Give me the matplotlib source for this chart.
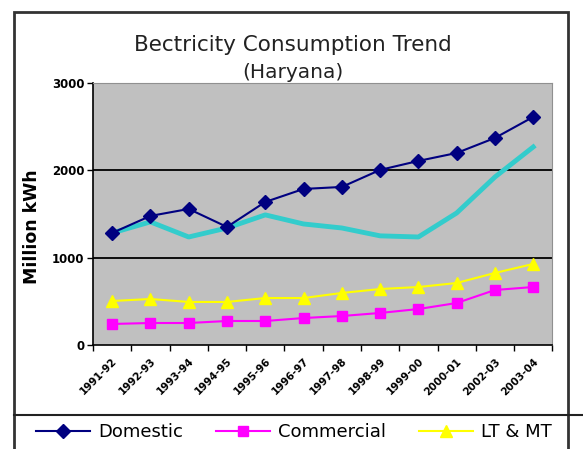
import matplotlib.pyplot as plt
from matplotlib.patches import Rectangle
from matplotlib.lines import Line2D
import numpy as np

# Electricity consumption in Haryana (million kWh)
years = ['1991-92', '1992-93', '1993-94', '1994-95', '1995-96', '1996-97',
         '1997-98', '1998-99', '1999-00', '2000-01', '2002-03', '2003-04']
domestic = [1283, 1478, 1558, 1352, 1638, 1787, 1810, 2005, 2108, 2199, 2371, 2612]
commercial = [241, 252, 252, 275, 275, 309, 332, 367, 412, 481, 630, 664]
lt_mt = [504, 527, 493, 493, 538, 538, 596, 641, 664, 710, 825, 928]
industrial = [1283, 1410, 1237, 1340, 1490, 1386, 1340, 1250, 1237, 1512, 1924, 2268]

fig = plt.figure(figsize=(5.83, 4.49), dpi=100)
ax = fig.add_axes([0.1595, 0.2316, 0.788, 0.5835])
ax.set_facecolor('#C0C0C0')

x = np.arange(len(years))
ax.plot(x, industrial, color='#33CCCC', lw=3.5, zorder=2)
ax.plot(x, lt_mt, color='#FFFF00', lw=1.5, marker='^', ms=9, zorder=3)
ax.plot(x, commercial, color='#FF00FF', lw=1.5, marker='s', ms=7, zorder=3)
ax.plot(x, domestic, color='#000080', lw=1.5, marker='D', ms=7, zorder=4)

ax.set_xlim(-0.5, len(years) - 0.5)
ax.set_ylim(0, 3000)
ax.set_yticks([0, 1000, 2000, 3000])
ax.set_yticklabels(['0', '1000', '2000', '3000'], fontsize=8.5, fontweight='bold')
ax.tick_params(axis='y', length=4, width=1, pad=2)
for v in [1000, 2000]:
    ax.axhline(v, color='black', lw=1.3, zorder=1)

ax.set_xticks(x)
ax.set_xticklabels(years, rotation=45, ha='right', rotation_mode='anchor',
                   fontsize=7.5, fontweight='bold')
ax.set_xticks(np.arange(-0.5, len(years)), minor=True)
ax.tick_params(axis='x', which='major', length=0, pad=8)
ax.tick_params(axis='x', which='minor', length=4, width=1)

ax.spines['left'].set_linewidth(1.2)
ax.spines['bottom'].set_linewidth(1.2)
ax.spines['top'].set_color('#909090')
ax.spines['right'].set_color('#909090')

ax.set_ylabel('Million kWh', fontsize=12.5, fontweight='bold')
ax.yaxis.set_label_coords(-0.113, 0.45)

fig.text(0.503, 1 - 45 / 449, 'Bectricity Consumption Trend', ha='center', va='center',
         fontsize=15.5, color='#222222')
fig.text(0.503, 1 - 72 / 449, '(Haryana)', ha='center', va='center', fontsize=14.5,
         color='#222222')

# outer frame and legend separator
fig.add_artist(Rectangle((14 / 583, -0.05), 554 / 583, 1 - 12 / 449 + 0.05,
                         transform=fig.transFigure, fill=False, ec='#333333', lw=2))
fig.add_artist(Line2D([14 / 583, 1.0], [1 - 415 / 449] * 2,
                      transform=fig.transFigure, color='#222222', lw=1.5))

handles = [
    Line2D([], [], color='#000080', marker='D', ms=7, lw=1.5),
    Line2D([], [], color='#FF00FF', marker='s', ms=7, lw=1.5),
    Line2D([], [], color='#FFFF00', marker='^', ms=9, lw=1.5),
]
fig.legend(handles, ['Domestic', 'Commercial', 'LT & MT'], ncol=3,
           loc='center', bbox_to_anchor=(0.504, 1 - 432 / 449), frameon=False,
           fontsize=13, handlelength=3.0, columnspacing=1.8, handletextpad=0.45)

fig.savefig('out.png', dpi=100)
